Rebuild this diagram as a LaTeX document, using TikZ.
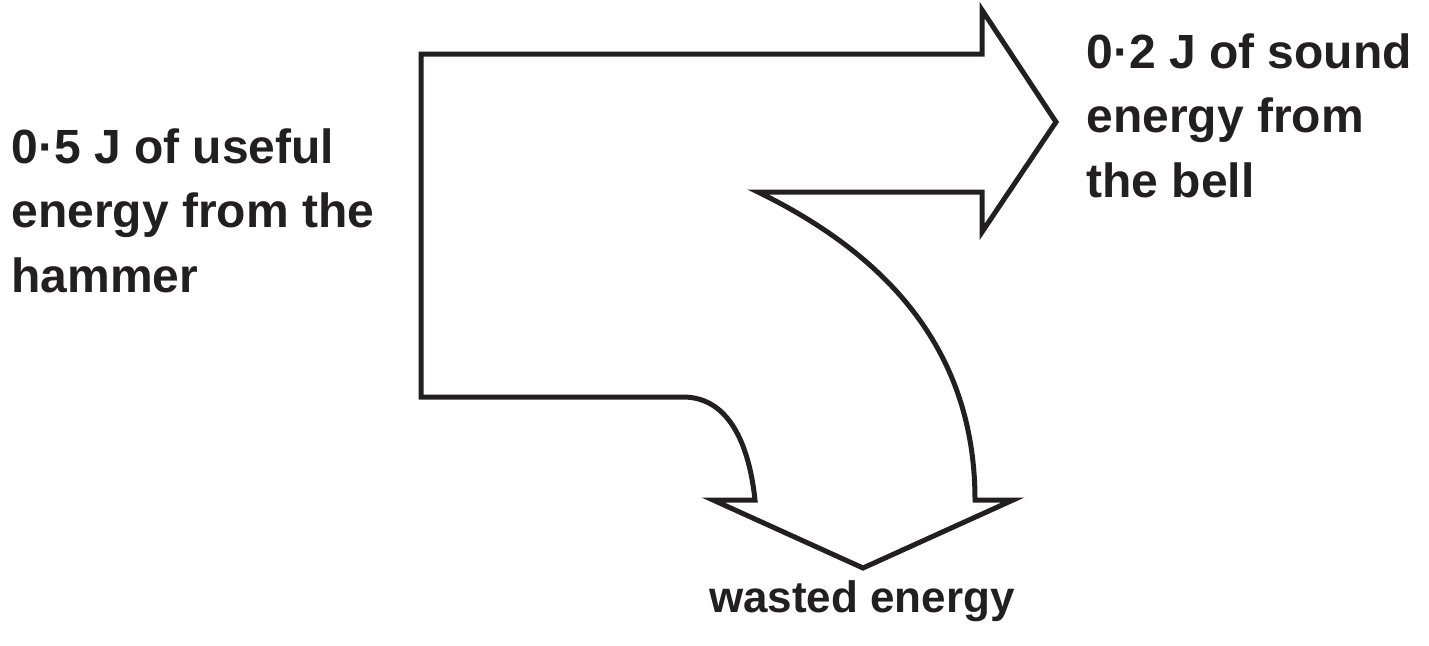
\documentclass[tikz,border=0pt]{standalone}
\usepackage{fontspec}
\setmainfont{Liberation Sans}
\definecolor{ink}{HTML}{231F20}
\tikzset{
    outline/.style={ink,line width=2.5pt,line join=miter},
    words/.style={ink,font=\bfseries\fontsize{24}{32.25}\selectfont,inner sep=0pt,align=left}
}

\begin{document}
\begin{tikzpicture}[x=0.5pt,y=0.5pt]
        \useasboundingbox (0,0) rectangle (1429,645);
        % energy flow arrow
        \draw [outline] (421,591)
            -- (982,591)
            -- (982,635)
            -- (1056,523)
            -- (982,413)
            -- (982,453)
            -- (758,453)
            to [out=-26,in=90] (975,145)
            -- (1013,145)
            -- (863,77)
            -- (713,145)
            -- (755,145)
            to [out=96,in=0] (683,248)
            -- (421,248)
            -- cycle;
        % labels (base = last line)
        \node [words,anchor=base west] (input) at (11,353)
            {0·5 J of useful\\energy from the\\hammer};
        \node [words,anchor=base west] (sound) at (1086,448)
            {0·2 J of sound\\energy from\\the bell};
        \node [words,font=\bfseries\fontsize{22}{30}\selectfont,anchor=base] (wasted) at (862,33) {wasted energy};
    \end{tikzpicture}
\end{document}
